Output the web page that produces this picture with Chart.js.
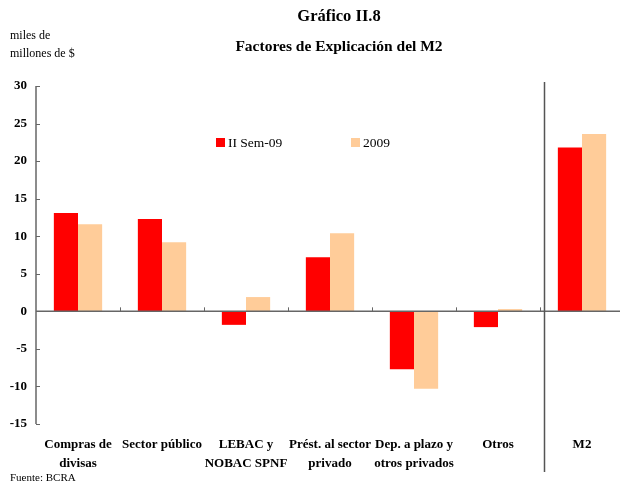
<!DOCTYPE html>
<html>
<head>
<meta charset="utf-8">
<script src="https://cdn.jsdelivr.net/npm/chart.js@4"></script>
<style>
  html, body { margin:0; padding:0; background:#fff; overflow:hidden; width:620px; height:484px; }
  #wrap { position:absolute; left:0; top:0; width:630px; height:484px; }
  .t { position:absolute; font-family:"Liberation Serif", "DejaVu Serif", serif; color:#000; white-space:nowrap; }
  #title1 { left:0; width:678px; text-align:center; top:6px; font-size:16.5px; font-weight:bold; }
  #title2 { left:0; width:678px; text-align:center; top:37px; font-size:15.5px; font-weight:bold; }
  #unit { left:10px; top:26px; font-size:12px; line-height:18px; }
  #src { left:10px; top:471px; font-size:11px; }
</style>
</head>
<body>
<div id="wrap"><canvas id="c" width="630" height="484"></canvas></div>
<div class="t" id="title1">Gráfico II.8</div>
<div class="t" id="title2">Factores de Explicación del M2</div>
<div class="t" id="unit">miles de<br>millones de $</div>
<div class="t" id="src">Fuente: BCRA</div>
<script>
const categories = [
  ["Compras de", "divisas"],
  "Sector público",
  ["LEBAC y", "NOBAC SPNF"],
  ["Prést. al sector", "privado"],
  ["Dep. a plazo y", "otros privados"],
  "Otros",
  "M2"
];
const seriesNames = ["II Sem-09", "2009"];
const semValues = [13.1, 12.3, -1.8, 7.2, -7.7, -2.1, 21.8];
const yearValues = [11.6, 9.2, 1.9, 10.4, -10.3, 0.3, 23.6];
const yTicks = [30, 25, 20, 15, 10, 5, 0, -5, -10, -15];

const SERIF = '"Liberation Serif", "DejaVu Serif", serif';
const AXIS = '#666666';

const decor = {
  id: 'decor',
  afterDatasetsDraw(chart) {
    const ctx = chart.ctx, a = chart.chartArea;
    const x = chart.scales.x, y = chart.scales.y;
    ctx.save();
    ctx.strokeStyle = AXIS;
    ctx.lineWidth = 1.5;
    ctx.beginPath();
    ctx.moveTo(a.left, y.getPixelForValue(30));
    ctx.lineTo(a.left, y.getPixelForValue(-15));
    ctx.stroke();
    ctx.lineWidth = 1;
    yTicks.forEach(v => {
      const py = Math.round(y.getPixelForValue(v)) + 0.5;
      ctx.beginPath();
      ctx.moveTo(a.left, py);
      ctx.lineTo(a.left + 4, py);
      ctx.stroke();
    });
    const zy = y.getPixelForValue(0);
    ctx.lineWidth = 1.5;
    ctx.beginPath();
    ctx.moveTo(a.left, zy);
    ctx.lineTo(chart.width, zy);
    ctx.stroke();
    ctx.lineWidth = 1;
    for (let i = 0; i < categories.length - 1; i++) {
      const bx = Math.round((x.getPixelForValue(i) + x.getPixelForValue(i + 1)) / 2) + 0.5;
      ctx.beginPath();
      ctx.moveTo(bx, zy);
      ctx.lineTo(bx, zy - 4);
      ctx.stroke();
    }
    const sx = Math.round((x.getPixelForValue(5) + x.getPixelForValue(6)) / 2) + 4.5;
    ctx.strokeStyle = '#555';
    ctx.lineWidth = 1.5;
    ctx.beginPath();
    ctx.moveTo(sx, a.top - 4);
    ctx.lineTo(sx, a.bottom + 48);
    ctx.stroke();
    ctx.font = '13.5px ' + SERIF;
    ctx.textBaseline = 'middle';
    ctx.textAlign = 'left';
    const leg = [[216, 142], [351, 142]];
    chart.data.datasets.forEach((ds, i) => {
      const [lx, ly] = leg[i];
      ctx.fillStyle = ds.backgroundColor;
      ctx.fillRect(lx, ly - 4, 9, 9);
      ctx.fillStyle = '#000';
      ctx.fillText(ds.label, lx + 12, ly + 1);
    });
    ctx.restore();
  }
};

new Chart(document.getElementById('c'), {
  type: 'bar',
  data: {
    labels: categories,
    datasets: [
      { label: seriesNames[0], data: semValues, backgroundColor: '#FF0000' },
      { label: seriesNames[1], data: yearValues, backgroundColor: '#FFCC99' }
    ]
  },
  options: {
    responsive: false,
    animation: false,
    devicePixelRatio: 1,
    layout: { padding: { left: 0, right: 6, top: 86, bottom: 0 } },
    datasets: { bar: { barPercentage: 1.0, categoryPercentage: 0.575 } },
    plugins: { legend: { display: false }, title: { display: false }, tooltip: { enabled: false } },
    scales: {
      x: {
        grid: { display: false, drawTicks: false },
        border: { display: false },
        ticks: {
          color: '#000',
          font: { family: SERIF, size: 13, weight: 'bold', lineHeight: 1.4 },
          padding: 12,
          maxRotation: 0,
          autoSkip: false
        },
        afterFit(s) { s.height = 60; }
      },
      y: {
        min: -15, max: 30,
        grid: { display: false, drawTicks: false },
        border: { display: false },
        ticks: {
          stepSize: 5,
          color: '#000',
          font: { family: SERIF, size: 13, weight: 'bold' },
          padding: 9
        },
        afterFit(s) { s.width = 36; }
      }
    }
  },
  plugins: [decor]
});
</script>
</body>
</html>
